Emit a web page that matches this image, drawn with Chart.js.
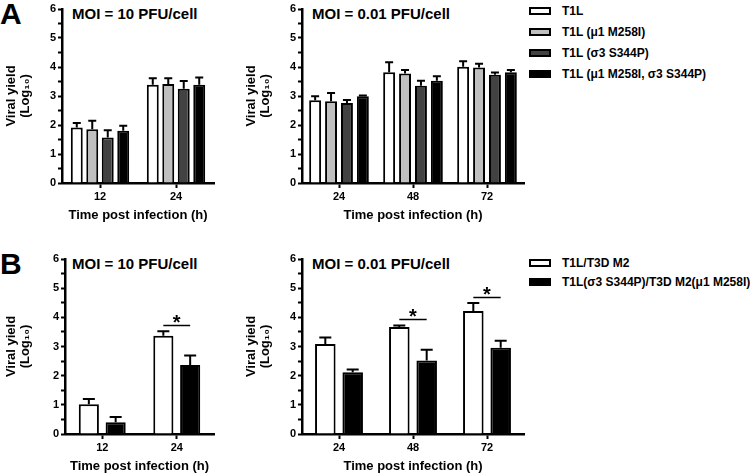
<!DOCTYPE html>
<html><head><meta charset="utf-8">
<script src="https://cdn.jsdelivr.net/npm/chart.js@4/dist/chart.umd.min.js"></script>
<style>
html,body{margin:0;padding:0;background:#fff}
body{width:750px;height:475px;position:relative;overflow:hidden;font-family:"Liberation Sans",Arial,sans-serif;font-weight:bold;color:#000}
canvas{position:absolute}
.txt{position:absolute;white-space:nowrap;line-height:1}
.letter{font-size:30px}
.ptitle{font-size:15px}
.leg{position:absolute;font-size:12px;line-height:1;white-space:nowrap}
.box{position:absolute;width:22px;height:8px;box-sizing:border-box;border:2px solid #000}
</style>
</head><body>
<div class="txt letter" style="left:0;top:-1px">A</div>
<div class="txt letter" style="left:0;top:249px">B</div>
<div class="txt ptitle" style="left:72px;top:6px">MOI = 10 PFU/cell</div>
<div class="txt ptitle" style="left:312px;top:6px">MOI = 0.01 PFU/cell</div>
<div class="txt ptitle" style="left:72px;top:256px">MOI = 10 PFU/cell</div>
<div class="txt ptitle" style="left:312px;top:256px">MOI = 0.01 PFU/cell</div>
<div id="legA"></div>
<div id="legB"></div>
<canvas id="cA1" width="230" height="225" style="left:0;top:-1px"></canvas>
<canvas id="cA2" width="300" height="225" style="left:240px;top:-1px"></canvas>
<canvas id="cB1" width="230" height="226" style="left:0;top:249px"></canvas>
<canvas id="cB2" width="300" height="226" style="left:240px;top:249px"></canvas>
<script>
// ---------- categories ----------
const timesA10 = ['12', '24'];
const timesA001 = ['24', '48', '72'];
const timesB10 = ['12', '24'];
const timesB001 = ['24', '48', '72'];
const yTickMax = 6;

// ---------- series names ----------
const strainsA = ['T1L', 'T1L (μ1 M258I)', 'T1L (σ3 S344P)', 'T1L (μ1 M258I, σ3 S344P)'];
const strainsB = ['T1L/T3D M2', 'T1L(σ3 S344P)/T3D M2(μ1 M258I)'];

// ---------- panel A, MOI = 10 ----------
const a10_T1L      = [1.91, 3.39];
const a10_T1L_err  = [0.16, 0.22];
const a10_mu1      = [1.85, 3.41];
const a10_mu1_err  = [0.30, 0.20];
const a10_s3       = [1.57, 3.25];
const a10_s3_err   = [0.25, 0.27];
const a10_both     = [1.80, 3.39];
const a10_both_err = [0.17, 0.25];

// ---------- panel A, MOI = 0.01 ----------
const a001_T1L      = [2.85, 3.82, 4.01];
const a001_T1L_err  = [0.14, 0.34, 0.19];
const a001_mu1      = [2.82, 3.78, 3.98];
const a001_mu1_err  = [0.28, 0.12, 0.13];
const a001_s3       = [2.76, 3.35, 3.73];
const a001_s3_err   = [0.10, 0.18, 0.08];
const a001_both     = [2.99, 3.53, 3.82];
const a001_both_err = [0.03, 0.15, 0.08];

// ---------- panel B, MOI = 10 ----------
const b10_wt      = [1.02, 3.37];
const b10_wt_err  = [0.18, 0.15];
const b10_mut     = [0.40, 2.37];
const b10_mut_err = [0.18, 0.32];
const b10_signif  = [false, true];

// ---------- panel B, MOI = 0.01 ----------
const b001_wt      = [3.09, 3.67, 4.22];
const b001_wt_err  = [0.22, 0.05, 0.27];
const b001_mut     = [2.12, 2.52, 2.96];
const b001_mut_err = [0.09, 0.37, 0.24];
const b001_signif  = [false, true, true];

// ---------- styles ----------
const colorsA = ['#ffffff', '#bfbfbf', '#424242', '#000000'];
const colorsB = ['#ffffff', '#000000'];
const FONT = '"Liberation Sans", Arial, sans-serif';

const errorPlugin = {
  id: 'errorBars',
  afterDatasetsDraw(chart, args, opts) {
    const ctx = chart.ctx, y = chart.scales.y;
    ctx.save();
    ctx.strokeStyle = '#000';
    ctx.lineWidth = 2;
    chart.data.datasets.forEach((ds, i) => {
      const meta = chart.getDatasetMeta(i);
      meta.data.forEach((bar, j) => {
        const e = ds.errors ? ds.errors[j] : 0;
        if (!e) return;
        const top = y.getPixelForValue(ds.data[j] + e);
        ctx.beginPath();
        ctx.moveTo(bar.x, bar.y);
        ctx.lineTo(bar.x, top);
        ctx.moveTo(bar.x - opts.cap / 2, top);
        ctx.lineTo(bar.x + opts.cap / 2, top);
        ctx.stroke();
      });
    });
    if (opts.signif) {
      const n = chart.data.datasets.length;
      const m0 = chart.getDatasetMeta(0), m1 = chart.getDatasetMeta(n - 1);
      opts.signif.forEach((flag, j) => {
        if (!flag) return;
        let hi = 0;
        chart.data.datasets.forEach(ds => { hi = Math.max(hi, ds.data[j] + (ds.errors ? ds.errors[j] : 0)); });
        const ly = Math.round(y.getPixelForValue(hi + 0.22)) + 0.5;
        const x1 = m0.data[j].x, x2 = m1.data[j].x;
        ctx.lineWidth = 1.5;
        ctx.beginPath();
        ctx.moveTo(x1, ly); ctx.lineTo(x2, ly);
        ctx.stroke();
        ctx.fillStyle = '#000';
        ctx.font = 'bold 20px ' + FONT;
        ctx.textAlign = 'center';
        ctx.textBaseline = 'alphabetic';
        ctx.fillText('*', (x1 + x2) / 2, ly + 3);
      });
    }
    ctx.restore();
  }
};

function makeChart(id, cats, names, colors, values, errors, yWidth, catPct, barPct, cap, signif) {
  const datasets = names.map((nm, i) => ({
    label: nm,
    data: values[i],
    errors: errors[i],
    backgroundColor: colors[i],
    borderColor: '#000',
    borderWidth: 2,
    categoryPercentage: catPct,
    barPercentage: barPct
  }));
  return new Chart(document.getElementById(id), {
    type: 'bar',
    data: { labels: cats, datasets },
    plugins: [errorPlugin],
    options: {
      responsive: false,
      animation: false,
      devicePixelRatio: 1,
      layout: { padding: { left: 0, right: 16, top: 10, bottom: 0 } },
      plugins: {
        legend: { display: false },
        tooltip: { enabled: false },
        errorBars: { cap, signif }
      },
      scales: {
        x: {
          offset: true,
          afterFit(s) { s.height = 41; },
          grid: { offset: false, drawOnChartArea: false, drawTicks: true, tickLength: 5, tickWidth: 2, tickColor: '#000' },
          border: { display: true, color: '#000', width: 2.5 },
          ticks: { color: '#000', padding: 2, font: { family: FONT, size: 11, weight: 'bold' } },
          title: { display: true, text: 'Time post infection (h)', color: '#000', padding: { top: 0, bottom: 1 },
                   font: { family: FONT, size: 13, weight: 'bold' } }
        },
        y: {
          min: 0, max: yTickMax,
          afterFit(s) { s.width = yWidth; },
          grid: { drawOnChartArea: false, drawTicks: true, tickLength: 4, tickWidth: 2, tickColor: '#000' },
          border: { display: true, color: '#000', width: 2.5 },
          ticks: { stepSize: 0.5, autoSkip: false, color: '#000', padding: 2,
                   font: { family: FONT, size: 11, weight: 'bold' },
                   callback: v => Number.isInteger(v) ? String(v) : '' },
          title: { display: true, text: ['Viral yield', '(Log₁₀)'], color: '#000', padding: { top: 4, bottom: 0 },
                   font: { family: FONT, size: 13, weight: 'bold', lineHeight: 1.1 } }
        }
      }
    }
  });
}

makeChart('cA1', timesA10, strainsA, colorsA,
  [a10_T1L, a10_mu1, a10_s3, a10_both],
  [a10_T1L_err, a10_mu1_err, a10_s3_err, a10_both_err], 62, 0.815, 0.77, 8, null);
makeChart('cA2', timesA001, strainsA, colorsA,
  [a001_T1L, a001_mu1, a001_s3, a001_both],
  [a001_T1L_err, a001_mu1_err, a001_s3_err, a001_both_err], 62, 0.86, 0.75, 8, null);
makeChart('cB1', timesB10, strainsB, colorsB,
  [b10_wt, b10_mut], [b10_wt_err, b10_mut_err], 65, 0.72, 0.75, 12, b10_signif);
makeChart('cB2', timesB001, strainsB, colorsB,
  [b001_wt, b001_mut], [b001_wt_err, b001_mut_err], 62, 0.74, 0.75, 12, b001_signif);

// ---------- legends (HTML, built from series names/colours) ----------
function buildLegend(elId, names, colors, rowCenters) {
  const el = document.getElementById(elId);
  names.forEach((nm, i) => {
    const c = rowCenters[i];
    const b = document.createElement('div');
    b.className = 'box';
    b.style.left = '529px'; b.style.top = (c - 4) + 'px';
    b.style.background = colors[i];
    el.appendChild(b);
    const t = document.createElement('div');
    t.className = 'leg';
    t.style.left = '562px'; t.style.top = (c - 6) + 'px';
    t.textContent = nm;
    el.appendChild(t);
  });
}
buildLegend('legA', strainsA, colorsA, [11, 32, 53, 74]);
buildLegend('legB', strainsB, colorsB, [263, 282]);
</script>
</body></html>
